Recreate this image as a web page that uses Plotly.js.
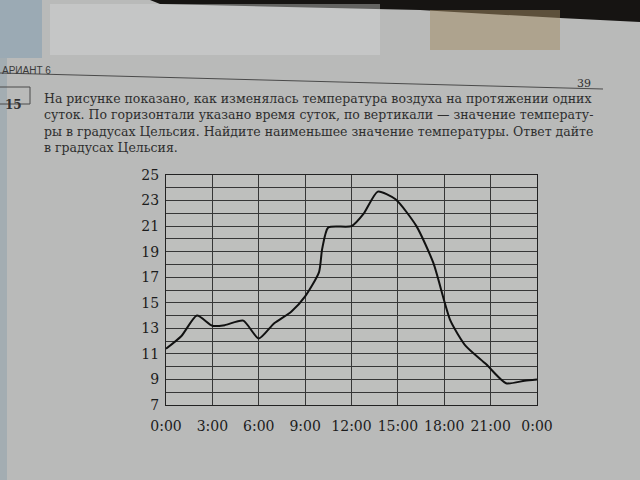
<!DOCTYPE html>
<html><head><meta charset="utf-8">
<script src="https://cdn.plot.ly/plotly-3.0.1.min.js"></script>
<style>html,body{margin:0;padding:0;background:#b9bab9;}#chart{width:640px;height:480px;}</style>
</head><body><div id="chart"></div>
<script>
// time of day in hours
const hours = [0, 1, 2, 3, 3.8, 5, 6, 7, 8.1, 9, 9.9, 10.1, 10.5, 12, 12.8, 13.7, 14.85, 16.2, 17.3, 18.4, 19.4, 20.7, 22, 23.2, 24];
// temperature, °C
const temps = [11.4, 12.4, 14.0, 13.2, 13.25, 13.6, 12.2, 13.4, 14.3, 15.5, 17.4, 19.2, 20.9, 21.0, 22.0, 23.7, 23.1, 21.0, 18.1, 13.6, 11.6, 10.2, 8.7, 8.9, 9.0];
const xTickVals = [0, 3, 6, 9, 12, 15, 18, 21, 24];
const xTickText = ["0:00", "3:00", "6:00", "9:00", "12:00", "15:00", "18:00", "21:00", "0:00"];
const yTickVals = [7, 9, 11, 13, 15, 17, 19, 21, 23, 25];

const problemLines = [
  "На рисунке показано, как изменялась температура воздуха на протяжении одних",
  "суток. По горизонтали указано время суток, по вертикали — значение температу-",
  "ры в градусах Цельсия. Найдите наименьшее значение температуры. Ответ дайте",
  "в градусах Цельсия."
];

const W = 640, H = 480, L = 166, R = 103, T = 175, B = 75;
const px = x => (x - L) / (W - L - R);
const py = y => (H - B - y) / (H - T - B);

const serif = "DejaVu Serif, Liberation Serif, serif";
const annotations = [{
  xref: "paper", yref: "paper", x: px(42), y: py(89),
  xanchor: "left", yanchor: "top", align: "left", text: problemLines.join("<br>"), showarrow: false,
  font: {family: serif, size: 12.5, color: "#2e2e2e"}
}];
annotations.push({xref: "paper", yref: "paper", x: px(593), y: py(75), text: "39", showarrow: false, font: {family: serif, size: 11, color: "#2e2e2e"}});
annotations.push({xref: "paper", yref: "paper", x: px(0), y: py(63), xanchor: "left", text: "АРИАНТ 6", showarrow: false, font: {family: "Liberation Sans, sans-serif", size: 10, color: "#3a3a3a"}});
annotations.push({xref: "paper", yref: "paper", x: px(13), y: py(96), xanchor: "center", text: "<b>15</b>", showarrow: false, font: {family: serif, size: 12, color: "#333"}});

const shapes = [
  // photo surroundings
  {type: "path", xref: "paper", yref: "paper", layer: "below", path: `M ${px(150)},${py(0)} L ${px(640)},${py(0)} L ${px(640)},${py(22)} L ${px(560)},${py(18)} L ${px(420)},${py(10)} L ${px(160)},${py(4)} Z`, fillcolor: "#161412", line: {width: 0}},
  {type: "rect", xref: "paper", yref: "paper", layer: "below", x0: px(430), x1: px(560), y0: py(50), y1: py(10), fillcolor: "#a48c64", opacity: 0.5, line: {width: 0}},
  {type: "rect", xref: "paper", yref: "paper", layer: "below", x0: px(50), x1: px(380), y0: py(55), y1: py(4), fillcolor: "#d6d9d9", opacity: 0.4, line: {width: 0}},
  {type: "rect", xref: "paper", yref: "paper", layer: "below", x0: px(0), x1: px(42), y0: py(58), y1: py(0), fillcolor: "#8fa4b2", opacity: 0.7, line: {width: 0}},
  {type: "rect", xref: "paper", yref: "paper", layer: "below", x0: px(0), x1: px(7), y0: py(480), y1: py(58), fillcolor: "#8ea0ab", opacity: 0.5, line: {width: 0}},
  // page header rule and task number box
  {type: "line", xref: "paper", yref: "paper", x0: px(0), x1: px(603), y0: py(73), y1: py(89), line: {color: "#4a4a4a", width: 1}},
  {type: "rect", xref: "paper", yref: "paper", x0: px(-2), x1: px(30), y0: py(104), y1: py(87), line: {color: "#4a4a4a", width: 1}}
];

Plotly.newPlot("chart", [{
  x: hours, y: temps, type: "scatter", mode: "lines",
  line: {color: "#111", width: 2, shape: "spline", smoothing: 0.6},
  hoverinfo: "skip"
}], {
  width: W, height: H,
  margin: {l: L, r: R, t: T, b: B},
  paper_bgcolor: "#b9bab9", plot_bgcolor: "#bebfbd",
  showlegend: false,
  xaxis: {range: [0, 24], tickvals: xTickVals, ticktext: xTickText, showgrid: true, gridcolor: "#363636", gridwidth: 1,
    zeroline: false, showline: true, linecolor: "#222", mirror: true, ticks: "", ticklabelstandoff: 8,
    tickfont: {family: serif, size: 14, color: "#1c1c1c"}},
  yaxis: {range: [7, 25], tickvals: yTickVals, showgrid: true, gridcolor: "#363636", gridwidth: 1,
    minor: {dtick: 1, showgrid: true, gridcolor: "#363636", gridwidth: 1},
    zeroline: false, showline: true, linecolor: "#222", mirror: true, ticks: "", ticklabelstandoff: 3,
    tickfont: {family: serif, size: 14, color: "#1c1c1c"}},
  annotations: annotations, shapes: shapes
}, {staticPlot: true});
</script></body></html>
